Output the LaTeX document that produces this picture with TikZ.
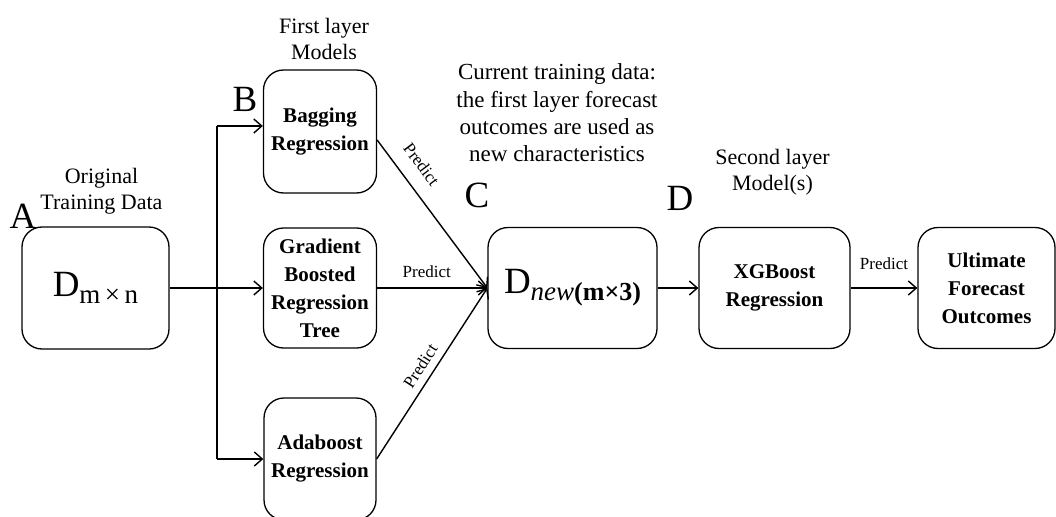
\documentclass[tikz,border=0pt]{standalone}
\usepackage{fontspec}
\setmainfont{Liberation Serif}
\usetikzlibrary{arrows.meta}

\begin{document}
\begin{tikzpicture}[x=1pt, y=-1pt, node distance=225pt,
    box/.style={draw, rectangle, rounded corners=20pt, line width=1.3pt, align=center, inner sep=0pt, font=\fontsize{21}{28}\selectfont\bfseries},
    arr/.style={-{Straight Barb[length=8pt,width=14pt]}, line width=1.4pt},
    lbl/.style={align=center, font=\fontsize{22}{26}\selectfont},
    big/.style={anchor=base, font=\fontsize{37}{37}\selectfont},
    pred/.style={font=\fontsize{17}{17}\selectfont}]
    \clip (0,0) rectangle (1056,516);

    % Original data
    \node[box, minimum width=147pt, minimum height=122pt, font=\normalfont] (data) at (95.5,288)
        {{\fontsize{37}{37}\selectfont D}\raisebox{-7pt}{\fontsize{27}{27}\selectfont m\,×\,n}};
    \node[lbl, above of=data, node distance=97pt, xshift=6pt] {Original\\Training Data};
    \node[big] at (23,228) {A};

    % First layer models
    \node[box, minimum width=113pt, minimum height=120pt, right of=data, node distance=224.5pt] (gbrt) {Gradient\\Boosted\\Regression\\Tree};
    \node[box, minimum width=113pt, minimum height=123pt, above of=gbrt, node distance=156.5pt] (bag) {Bagging\\Regression};
    \node[box, minimum width=112pt, minimum height=122pt, below of=gbrt, node distance=171pt] (ada) {Adaboost\\Regression};
    \node[lbl, above of=bag, node distance=92.5pt, xshift=4pt] {First layer\\Models};
    \node[big] at (245,112) {B};

    % New training data
    \node[box, minimum width=169pt, minimum height=121pt, right of=gbrt, node distance=252.5pt, font=\normalfont] (newdata)
        {{\fontsize{37}{37}\selectfont D}\raisebox{-7pt}{\fontsize{27}{27}\selectfont\itshape new}\raisebox{-7pt}{\fontsize{26}{26}\selectfont\bfseries (m×3)}};
    \node[align=center, font=\fontsize{23}{27.3}\selectfont] at (557,113) {Current training data:\\the first layer forecast\\outcomes are used as\\new characteristics};
    \node[big] at (477,207) {C};

    % Second layer model
    \node[box, minimum width=151pt, minimum height=121pt, right of=newdata, node distance=202pt] (xgb) {XGBoost\\Regression};
    \node[lbl, above of=xgb, node distance=115.5pt, xshift=-2pt] {Second layer\\Model(s)};
    \node[big] at (680,210) {D};

    % Final output
    \node[box, minimum width=137pt, minimum height=121pt, right of=xgb, node distance=212pt] (final) {Ultimate\\Forecast\\Outcomes};

    % Arrows
    \coordinate (split) at (217,288);
    \draw[line width=1.4pt] (data) -- (split);
    \draw[line width=1.4pt] (split |- bag.west) ++(0,-5.5) -- (split |- ada.west);
    \draw[arr] (split) -- (gbrt);
    \draw[arr] ([yshift=5.5pt]split |- bag.west) -- ([yshift=5.5pt]bag.west);
    \draw[arr] (split |- ada.west) -- (ada.west);
    \draw[arr] ([yshift=-8.5pt]bag.east) -- node[pred, sloped, above=11pt, pos=0.25] {Predict} (newdata.west);
    \draw[arr] (gbrt) -- node[pred, above=6pt, pos=0.45] {Predict} (newdata);
    \draw[arr] (ada.east) -- node[pred, sloped, above=4pt, pos=0.5] {Predict} (newdata.west);
    \draw[arr] (newdata) -- (xgb);
    \draw[arr] (xgb) -- node[pred, above=14pt] {Predict} (final);
\end{tikzpicture}
\end{document}
